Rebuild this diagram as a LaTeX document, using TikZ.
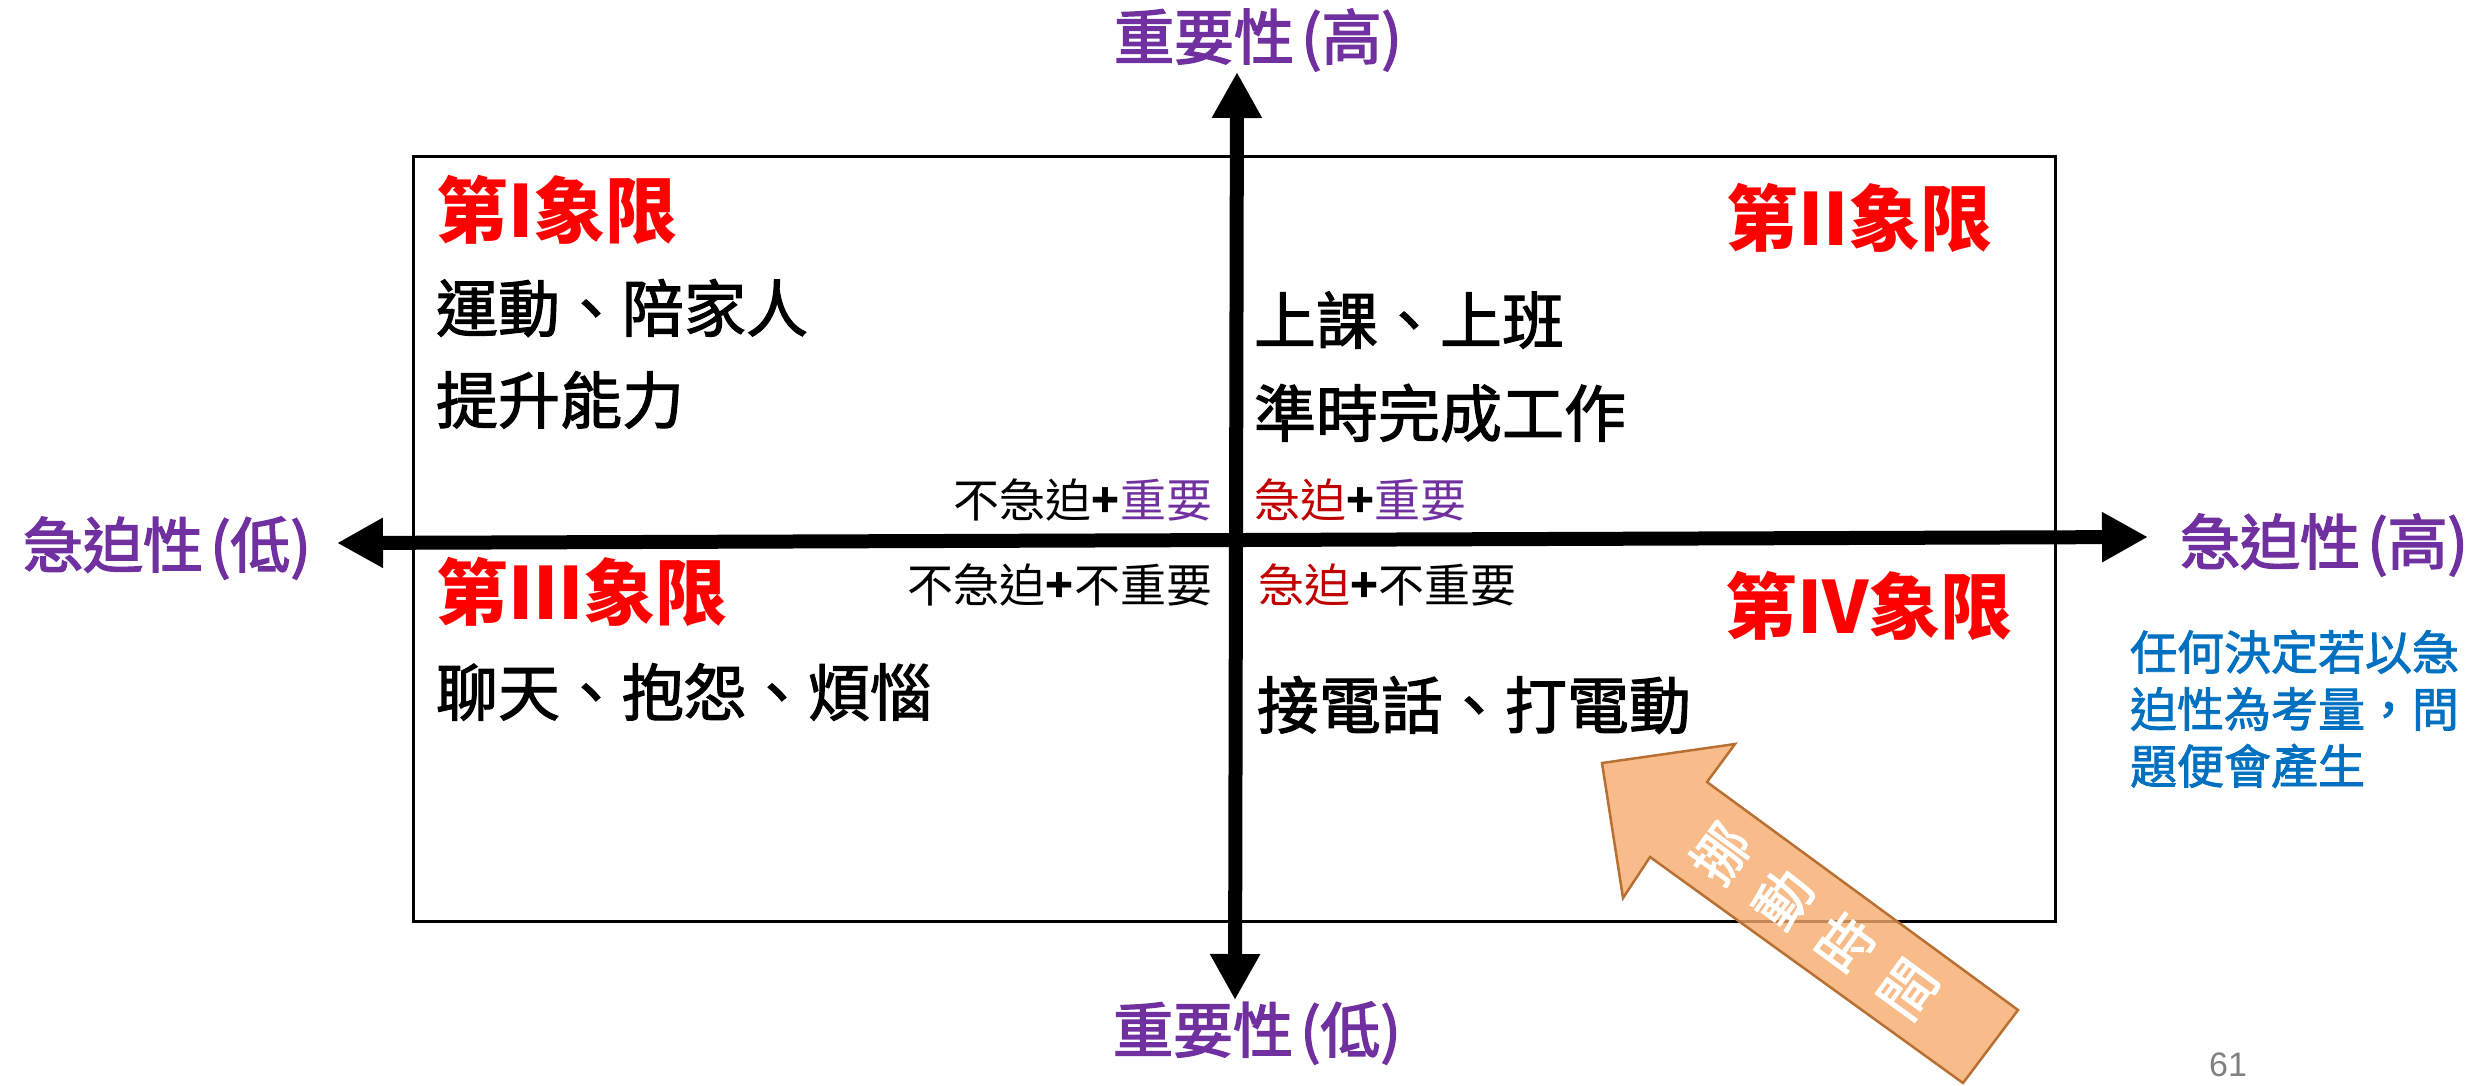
\documentclass[tikz,border=0pt]{standalone}
\usepackage{fontspec}
\setmainfont{Noto Sans CJK TC}
\newfontfamily\cjkmed[FakeBold=1.8]{Noto Sans CJK TC}
\newfontfamily\cjkhvy[FakeBold=2.6]{Noto Sans CJK TC}
\newfontfamily\latinsans{Liberation Sans}
\usetikzlibrary{arrows.meta}
\definecolor{purp}{HTML}{7030A0}
\definecolor{qred}{HTML}{FF0000}
\definecolor{dred}{HTML}{C00000}
\definecolor{qblue}{HTML}{0070C0}
\definecolor{orfill}{RGB}{246,171,109}
\definecolor{oredge}{RGB}{184,112,50}
\tikzset{
  lbl/.style={inner sep=0pt, outer sep=0pt},
  axislbl/.style={lbl, text=purp, font=\cjkhvy\fontsize{60}{72}\selectfont},
  quadhead/.style={lbl, anchor=west, text=qred, font=\fontsize{72}{86}\selectfont\bfseries},
  body/.style={lbl, anchor=west, text=black, font=\cjkmed\fontsize{62}{74}\selectfont},
  midlbl/.style={lbl, text=black, font=\fontsize{46}{56}\selectfont},
  axisline/.style={line width=14pt},
  arrowtxt/.style={lbl, text=white, rotate=54, align=center, font=\cjkmed\fontsize{56}{77}\selectfont},
}
\begin{document}
\begin{tikzpicture}[x=1pt,y=-1pt]
\useasboundingbox (0,0) rectangle (2484,1085);
% frame
\node[lbl, draw=black, line width=3pt, minimum width=1642pt, minimum height=765pt, anchor=north west] (frame) at (413,156) {};
% axes
\coordinate (vtop) at (1237,72);
\coordinate (vbot) at (1235,1000);
\coordinate (hleft) at (337,543);
\coordinate (hright) at (2148,537);
\draw[axisline, {Triangle[width=47pt,length=46pt]}-{Triangle[width=47pt,length=46pt]}] (vbot) -- (vtop);
\draw[axisline, {Triangle[width=47pt,length=46pt]}-{Triangle[width=47pt,length=46pt]}] (hleft) -- (hright);
% axis labels
\node[axislbl] (imphi) at (1258,40) {重要性\hspace{0.12em}(高)};
\node[axislbl] (implo) at (1257,1033) {重要性\hspace{0.12em}(低)};
\node[axislbl] (urglo) at (167,548) {急迫性\hspace{0.12em}(低)};
\node[axislbl] (urghi) at (2324,545) {急迫性\hspace{0.12em}(高)};
% quadrant I
\node[quadhead] (q1) at (436,210) {第I象限};
\node[body] (q1a) at (436,308) {運動、陪家人};
\node[body] (q1b) at (436,400) {提升能力};
% quadrant II
\node[quadhead] (q2) at (1726,218) {第II象限};
\node[body] (q2a) at (1254,320) {上課、上班};
\node[body] (q2b) at (1254,413) {準時完成工作};
% quadrant III
\node[quadhead] (q3) at (436,592) {第III象限};
\node[body] (q3a) at (436,692) {聊天、抱怨、煩惱};
% quadrant IV
\node[quadhead] (q4) at (1725,606) {第IV象限};
\node[body] (q4a) at (1257,705) {接電話、打電動};
% middle labels
\node[midlbl, anchor=east] (m1) at (1212,500) {不急迫\textbf{+}\textcolor{purp}{重要}};
\node[midlbl, anchor=west] (m2) at (1254,500) {\textcolor{dred}{急迫}\textbf{+}\textcolor{purp}{重要}};
\node[midlbl, anchor=east] (m3) at (1212,585) {不急迫\textbf{+}不重要};
\node[midlbl, anchor=west] (m4) at (1258,585) {\textcolor{dred}{急迫}\textbf{+}不重要};
% note
\node[lbl, anchor=west, align=left, text=qblue, font=\cjkmed\fontsize{47}{57}\selectfont] (note) at (2130,709) {任何決定若以急\\迫性為考量，問\\題便會產生};
% orange arrow
\path[fill=orfill, fill opacity=0.8, draw=oredge, line width=2.5pt, line join=miter]
  (1602,763) -- (1735,744) -- (1707,782) -- (2018,1010) -- (1963,1083) -- (1650,857) -- (1623,898) -- cycle;
\node[arrowtxt] (movetime) at (1814,921) {挪\\動\\時\\間};
% page number
\node[lbl, text=gray, font=\latinsans\fontsize{34}{40}\selectfont] (pg) at (2228,1065) {61};
\end{tikzpicture}
\end{document}
